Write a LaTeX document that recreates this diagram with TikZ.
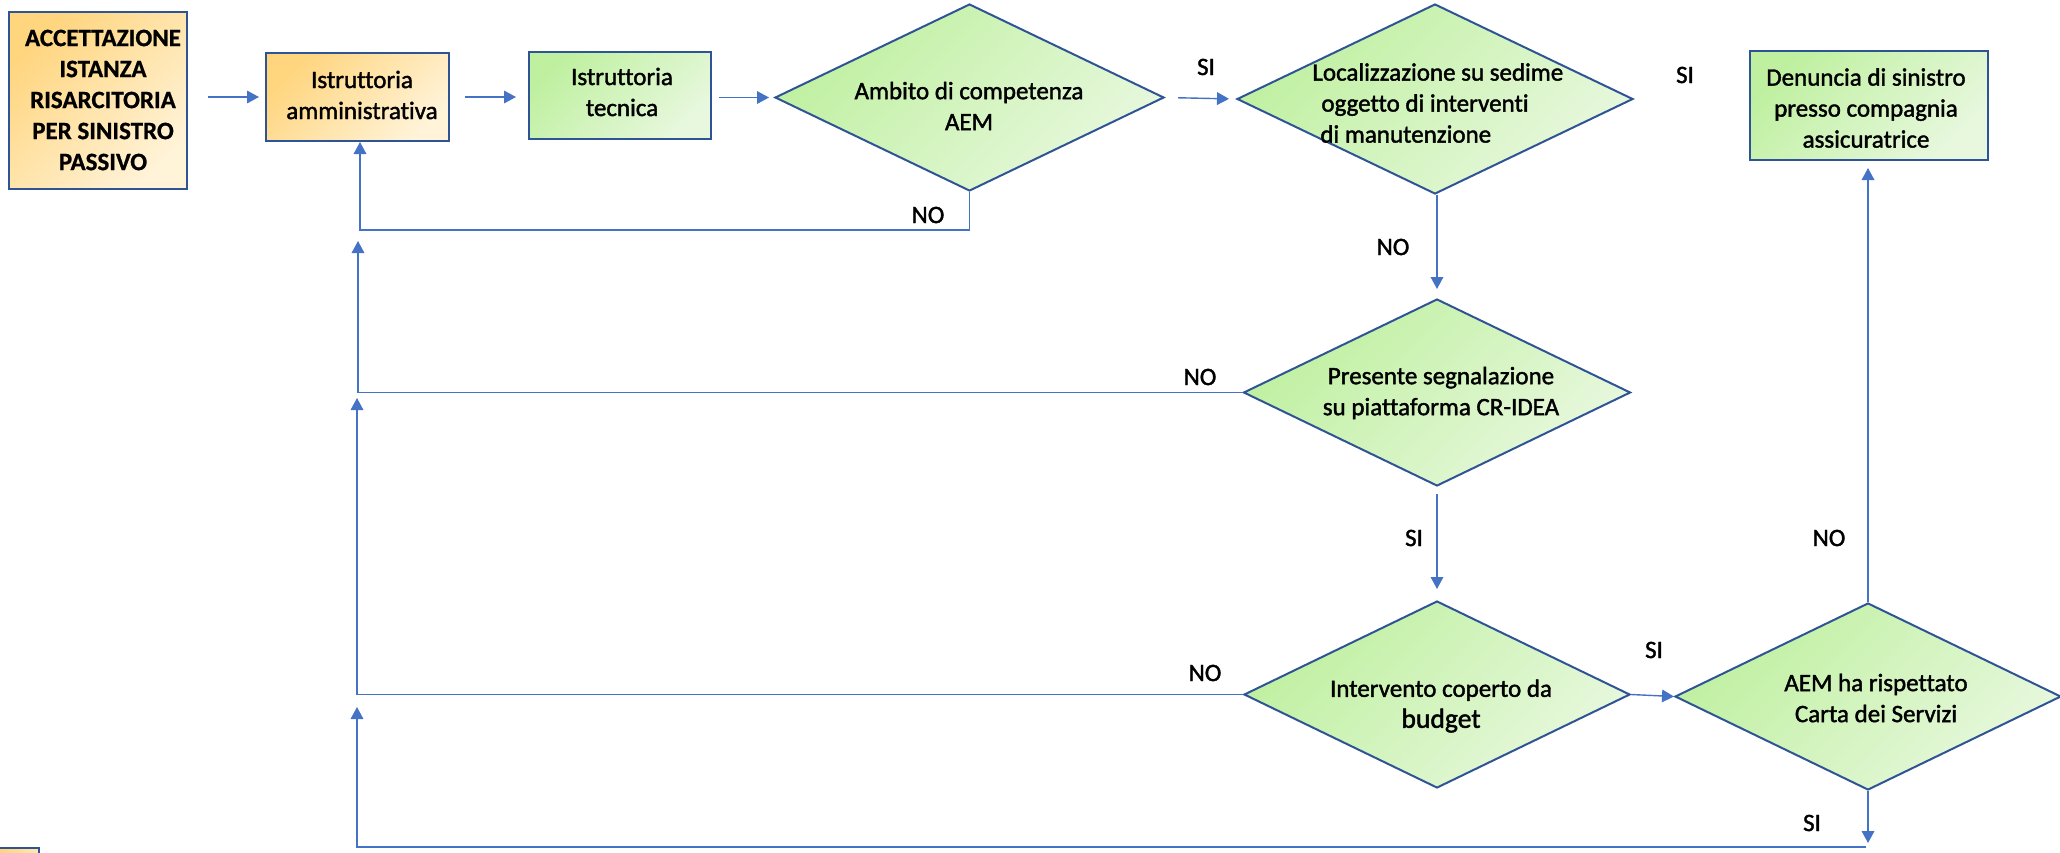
\documentclass[tikz,border=0pt]{standalone}
\usepackage{fontspec}
\setmainfont{Carlito}[Ligatures=NoCommon]
\newfontfamily\medfont{Carlito}[Ligatures=NoCommon, FakeBold=1.6]
\newfontfamily\heavyfont{Carlito Bold}[Ligatures=NoCommon, FakeBold=0.8]
\usetikzlibrary{shapes.geometric,arrows.meta,calc}
\definecolor{bordc}{HTML}{2F5496}
\definecolor{linec}{HTML}{4472C4}
\definecolor{org1}{HTML}{FFD57E}
\definecolor{org2}{HTML}{FFF3D8}
\definecolor{grn1}{HTML}{BFF0A0}
\definecolor{grn2}{HTML}{E8F8DE}
\begin{document}
\begin{tikzpicture}[x=0.5pt,y=-0.5pt,
  every node/.style={font=\fontsize{12.5}{15.5}\selectfont\medfont, text=black},
  obox/.style={draw=bordc, line width=1pt, top color=org1, bottom color=org2, shading angle=45, inner sep=0pt},
  gbox/.style={draw=bordc, line width=1pt, top color=grn1, bottom color=grn2, shading angle=45, inner sep=0pt},
  dec/.style={diamond, draw=bordc, line width=1pt, top color=grn1, bottom color=grn2, shading angle=45, inner sep=0pt},
  txt/.style={align=center, inner sep=0pt},
  lab/.style={inner sep=0pt},
  arr/.style={draw=linec, line width=0.7pt, -{Triangle[length=6pt,width=6.3pt]}}]
\useasboundingbox (0,0) rectangle (2060,852);

% boxes
\node[obox, minimum width=89pt, minimum height=88.5pt] (A) at (98,100.5) {};
\node[txt, font=\fontsize{12.5}{15.5}\selectfont\heavyfont] (At) at (103,100) {ACCETTAZIONE\\ISTANZA\\RISARCITORIA\\PER SINISTRO\\PASSIVO};
\node[obox, minimum width=91.5pt, minimum height=44pt] (B) at (357.5,97) {};
\node[txt] (Bt) at (362,95) {Istruttoria\\amministrativa};
\node[gbox, minimum width=91pt, minimum height=43.5pt] (C) at (620,95.5) {};
\node[txt] (Ct) at (622,92) {Istruttoria\\tecnica};
\node[gbox, minimum width=119pt, minimum height=54.5pt] (E) at (1869,105.5) {};
\node[txt] (Et) at (1866,108) {Denuncia di sinistro\\presso compagnia\\assicuratrice};
\node[obox, minimum width=24pt, minimum height=20pt, anchor=north west] (F) at (-10,847) {};

% decisions
\node[dec, minimum width=194.5pt, minimum height=93.5pt] (D1) at (969.5,97.5) {};
\node[txt] (D1t) at (969,106) {Ambito di competenza\\AEM};
\node[dec, minimum width=198pt, minimum height=95pt] (D2) at (1435,99) {};
\node[align=left, inner sep=0pt, anchor=west] (D2t) at (1312,103) {Localizzazione su sedime\\\hspace*{4.5pt}oggetto di interventi\\\hspace*{4pt}di manutenzione};
\node[dec, minimum width=193.5pt, minimum height=93.5pt] (D3) at (1437,392.5) {};
\node[txt] (D3t) at (1441,393) {Presente segnalazione\\su piattaforma CR-IDEA};
\node[dec, minimum width=193pt, minimum height=93.5pt] (D4) at (1437,694.5) {};
\node[txt] (D4t) at (1441,706) {Intervento coperto da\\{\fontsize{13.8}{15.5}\selectfont budget}};
\node[dec, minimum width=193pt, minimum height=93.5pt] (D5) at (1868,696.5) {};
\node[txt] (D5t) at (1876,698) {AEM ha rispettato\\Carta dei Servizi};

% labels
\node[lab] (l1) at (928,215) {NO};
\node[lab] (l2) at (1206,67) {SI};
\node[lab] (l3) at (1685,75) {SI};
\node[lab] (l4) at (1393,247) {NO};
\node[lab] (l5) at (1200,377) {NO};
\node[lab] (l6) at (1414,538) {SI};
\node[lab] (l7) at (1829,538) {NO};
\node[lab] (l8) at (1205,673) {NO};
\node[lab] (l9) at (1654,650) {SI};
\node[lab] (l10) at (1812,823) {SI};

% corner coordinates
\coordinate (k1) at (360,230);
\coordinate (k2) at (358,241);
\coordinate (k3) at (357,398);
\coordinate (k4) at (357,707);
\coordinate (k5) at (1868,843);
\coordinate (k6) at (1866,847);

% connectors
\draw[arr, shorten <=10pt, shorten >=3pt] (A.east |- B.west) -- (B.west);
\draw[arr, shorten <=7.5pt, shorten >=6pt] (B.east) -- (B.east -| C.west);
\draw[arr, shorten <=3.5pt, shorten >=2.5pt] (C.east |- D1.west) -- (D1.west);
\draw[arr, shorten <=6.5pt, shorten >=3.5pt] (D1.east) -- (D2.west);
\draw[arr] (D1.south) |- (k1) -- (k1 |- B.south);
\draw[arr, shorten >=4.5pt] (D3.north |- D2.south) -- (D3.north);
\draw[arr] (D3.west) -| (k2);
\draw[arr, shorten <=3.5pt, shorten >=5.5pt] (D3.south) -- (D4.north);
\draw[arr] (D4.west) -| (k3);
\draw[arr] (D4.east) -- (D5.west);
\draw[arr, shorten >=3.5pt] (D5.north) -- (D5.north |- E.south);
\draw[arr] (D5.south) -- (k5);
\draw[arr] (k6) -| (k4);
\end{tikzpicture}
\end{document}
